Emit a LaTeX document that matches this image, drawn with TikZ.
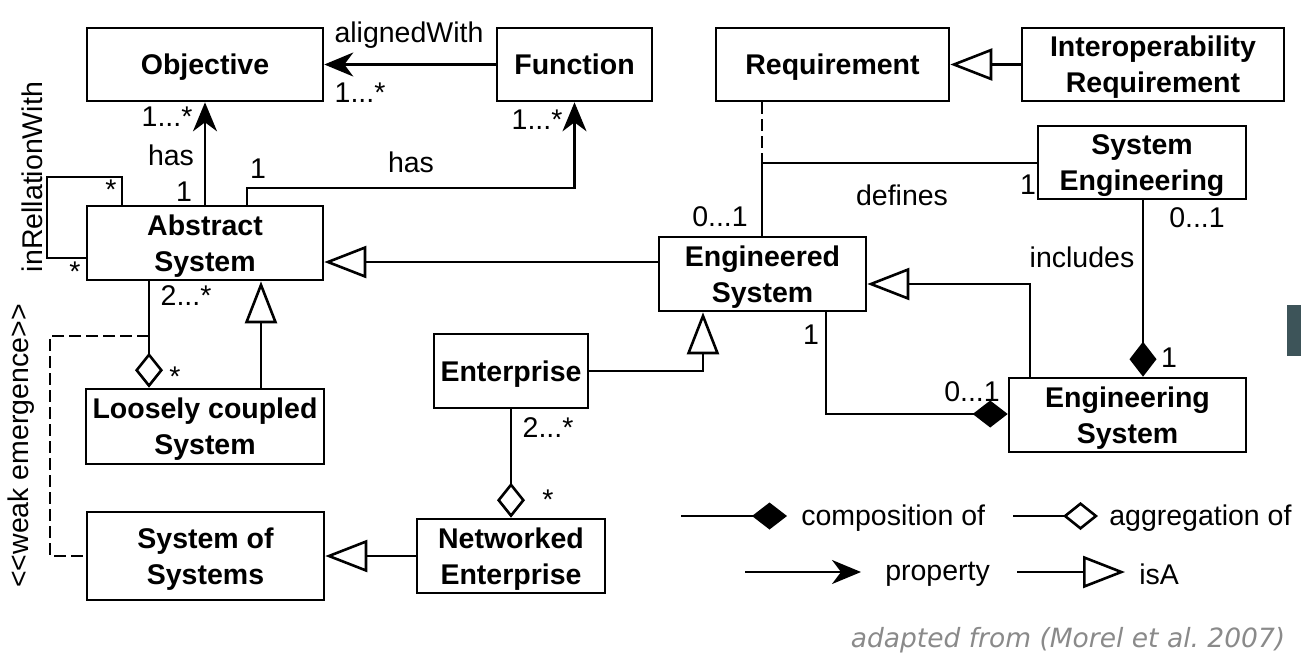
\documentclass[tikz,border=0pt]{standalone}
\usepackage{fontspec}
\setmainfont{Liberation Sans}
\newfontfamily\capfont{DejaVu Sans}
\usetikzlibrary{arrows.meta}
\definecolor{capgray}{HTML}{8A8A8A}
\definecolor{bargray}{HTML}{3D5459}

\begin{document}
\begin{tikzpicture}[x=1pt,y=-1pt,line width=2.6pt,
  box/.style={draw, rectangle, inner sep=0pt, align=center, text depth=0pt,
    font=\fontsize{28.5}{36}\selectfont\bfseries},
  lbl/.style={inner sep=0pt, font=\fontsize{28.5}{34}\selectfont},
  prop/.style={-{Stealth[length=29pt,width=24pt,inset=9pt]}},
  isa/.style={-{Triangle[open,length=42pt,width=32pt,fill=white]}},
  agg/.style={-{Diamond[open,length=35pt,width=28pt,fill=white]}},
  comp/.style={-{Diamond[length=35pt,width=27pt]}},
  dashline/.style={dash pattern=on 12pt off 5pt}]
\useasboundingbox (0,0) rectangle (1301,657);

% classes
\node[box, minimum width=236pt, minimum height=73pt] (obj) at (205,64.5) {Objective};
\node[box, minimum width=155pt, minimum height=73pt] (func) at (574.5,64.5) {Function};
\node[box, minimum width=233pt, minimum height=73pt] (req) at (832.5,64.5) {Requirement};
\node[box, minimum width=262pt, minimum height=73pt] (interop) at (1153,64.5) {Interoperability\\Requirement};
\node[box, minimum width=208pt, minimum height=73pt] (syseng) at (1142,162.5) {System\\Engineering};
\node[box, minimum width=236pt, minimum height=74pt] (abs) at (205,243) {Abstract\\System};
\node[box, minimum width=207pt, minimum height=74pt] (engd) at (762.5,274) {Engineered\\System};
\node[box, minimum width=154pt, minimum height=74pt] (ent) at (511,371) {Enterprise};
\node[box, minimum width=238pt, minimum height=75pt] (loose) at (205,426.5) {Loosely coupled\\System};
\node[box, minimum width=237pt, minimum height=74pt] (engg) at (1127.5,415) {Engineering\\System};
\node[box, minimum width=237pt, minimum height=88pt] (sos) at (205.5,556) {System of\\Systems};
\node[box, minimum width=188pt, minimum height=74pt] (net) at (511,556) {Networked\\Enterprise};

% routing points
\coordinate (hasf) at (247,188);
\coordinate (loopa) at (122,177);
\coordinate (loopb) at (47,258);
\coordinate (gen1) at (0,262);
\coordinate (gen2) at (703,371);
\coordinate (gen3) at (1030,284);
\coordinate (cmp1) at (826,414);
\coordinate (cmp2) at (1143,0);
\coordinate (defj) at (762,163);
\coordinate (gen4) at (261,0);
\coordinate (agg1) at (149,0);
\coordinate (weaka) at (149,336);
\coordinate (weakb) at (50,556);

% associations
\draw[prop] (func.west) -- (obj.east);
\draw[prop] (abs.north) -- (obj.south);
\draw[prop] (abs.north -| hasf) -- (hasf) -| (func.south);
\draw (abs.north -| loopa) -- (loopa) -| (loopb) -- (abs.west |- loopb);
\draw[isa] (engd.west |- gen1) -- (abs.east |- gen1);
\draw[isa] (ent.east) -- (gen2) -- (engd.south -| gen2);
\draw[isa] (engg.north -| gen3) -- (gen3) -- (engd.east |- gen3);
\draw[comp] (engd.south -| cmp1) -- (cmp1) -- (engg.west |- cmp1);
\draw[comp] (syseng.south -| cmp2) -- (engg.north -| cmp2);
\draw[dashline] (req.south -| defj) -- (defj);
\draw (syseng.west |- defj) -- (defj) -- (engd.north -| defj);
\draw[isa] (interop.west) -- (req.east);
\draw[isa] (loose.north -| gen4) -- (abs.south -| gen4);
\draw[agg] (abs.south -| agg1) -- (loose.north -| agg1);
\draw[dashline] (weaka) -| (weakb) -- (sos.west |- weakb);
\draw[isa] (net.west) -- (sos.east);
\draw[agg] (ent.south) -- (net.north);

% association labels
\node[lbl] (t1) at (409,35) {alignedWith};
\node[lbl] (t2) at (360,93) {1...*};
\node[lbl] (t3) at (167,117) {1...*};
\node[lbl] (t4) at (171,155) {has};
\node[lbl] (t5) at (184,192) {1};
\node[lbl] (t6) at (258,169) {1};
\node[lbl] (t7) at (411,162) {has};
\node[lbl] (t8) at (537,120) {1...*};
\node[lbl] (t9) at (111,190) {*};
\node[lbl] (t10) at (75,272) {*};
\node[lbl, rotate=90] (t11) at (32,177) {inRellationWith};
\node[lbl] (t12) at (186,296) {2...*};
\node[lbl] (t13) at (175,377) {*};
\node[lbl, rotate=90] (t14) at (21,446) {<\kern0pt<weak emergence>\kern0pt>};
\node[lbl] (t15) at (720,217) {0...1};
\node[lbl] (t16) at (902,195) {defines};
\node[lbl] (t17) at (1028,185) {1};
\node[lbl] (t18) at (1197,218) {0...1};
\node[lbl] (t19) at (1082,257) {includes};
\node[lbl] (t20) at (1169,358) {1};
\node[lbl] (t21) at (811,335) {1};
\node[lbl] (t22) at (972,392) {0...1};
\node[lbl] (t23) at (548,428) {2...*};
\node[lbl] (t24) at (548,500) {*};

% legend
\coordinate (lc1) at (681,516);
\coordinate (lc2) at (787,516);
\coordinate (la1) at (1013,516);
\coordinate (la2) at (1098,516);
\coordinate (lp1) at (745,572);
\coordinate (lp2) at (861,572);
\coordinate (li1) at (1017,572);
\coordinate (li2) at (1125,572);
\draw[comp] (lc1) -- (lc2);
\draw[agg] (la1) -- (la2);
\draw[prop] (lp1) -- (lp2);
\draw[isa] (li1) -- (li2);
\node[lbl, anchor=west] (lgc) at (800,518) {composition of};
\node[lbl, anchor=west] (lga) at (1108,518) {aggregation of};
\node[lbl, anchor=west] (lgp) at (884,574) {property};
\node[lbl, anchor=west] (lgi) at (1138,574) {isA};

% source note and side marker
\node[inner sep=0pt, text=capgray, font=\capfont\itshape\fontsize{26.5}{30}\selectfont] (src) at (1068,640) {adapted from (Morel et al.\ 2007)};
\fill[bargray] (1287,305) rectangle (1301,356);
\end{tikzpicture}
\end{document}
